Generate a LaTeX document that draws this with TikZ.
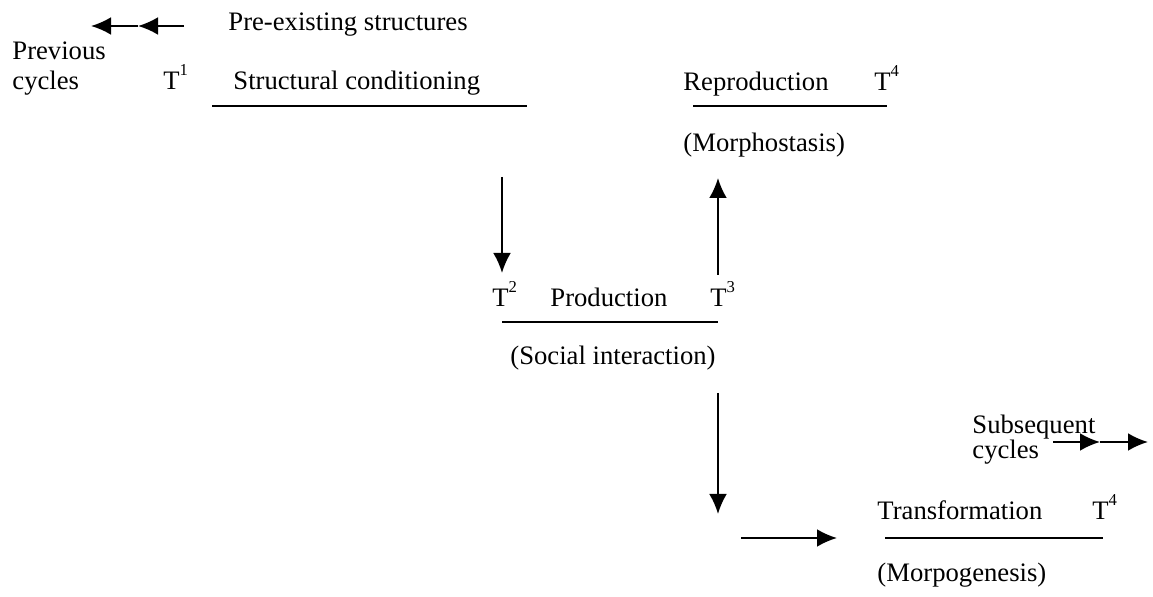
\documentclass[tikz,border=0pt]{standalone}
\usepackage{fontspec}
\setmainfont{Liberation Serif}
\usetikzlibrary{calc,arrows.meta}

\newcommand{\tsup}[1]{T\raisebox{1.15ex}{\fontsize{7.5}{8}\selectfont #1}}

\begin{document}
\begin{tikzpicture}[x=0.45pt,y=-0.45pt,font=\fontsize{12}{14}\selectfont,
                    txt/.style={anchor=base west,inner sep=0pt},
                    rule/.style={line width=0.8pt},
                    arr/.style={-{Latex[length=9pt,width=8pt]},line width=0.9pt}]
                      \useasboundingbox (0,0) rectangle (1153,597);
                      % first cycle: conditioning
                      \node[txt](pre)at(228,31){Pre-existing structures};
                      \node[txt](prev)at(12,60){Previous};
                      \node[txt](prevc)at(12,90){cycles};
                      \node[txt](t1)at(163,90){\tsup{1}};
                      \node[txt](cond)at(233,90){Structural conditioning};
                      \coordinate(pa)at(184,26);
                      \coordinate(pb)at(138,26);
                      \coordinate(pc)at(91,26);
                      \draw[arr](pa)--(pb);
                      \draw[arr](pb)--(pc);
                      \coordinate(ca)at(212,106);
                      \coordinate(cb)at(527,106);
                      \draw[rule](ca)--(cb);
                      % reproduction
                      \node[txt](repr)at(683,91){Reproduction};
                      \node[txt](t4a)at(874,91){\tsup{4}};
                      \node[txt](morphs)at(683,152){(Morphostasis)};
                      \coordinate(ra)at(693,106);
                      \coordinate(rb)at(887,106);
                      \draw[rule](ra)--(rb);
                      % interaction
                      \node[txt](t2)at(492,307){\tsup{2}};
                      \node[txt](prod)at(550,307){Production};
                      \node[txt](t3)at(710,307){\tsup{3}};
                      \node[txt](soc)at(510,365){(Social interaction)};
                      \coordinate(pra)at(502,322);
                      \coordinate(prb)at(718,322);
                      \draw[rule](pra)--(prb);
                      \coordinate(da)at(502,177);
                      \coordinate(db)at(502,273);
                      \draw[arr](da)--(db);
                      \coordinate(ua)at(718,275);
                      \coordinate(ub)at(718,178);
                      \draw[arr](ua)--(ub);
                      % transformation
                      \node[txt](trans)at(877,520){Transformation};
                      \node[txt](t4b)at(1092,520){\tsup{4}};
                      \node[txt](morpg)at(877,582){(Morpogenesis)};
                      \coordinate(ta)at(885,538);
                      \coordinate(tb)at(1103,538);
                      \draw[rule](ta)--(tb);
                      \coordinate(va)at(718,393);
                      \coordinate(vb)at(718,514);
                      \draw[arr](va)--(vb);
                      \coordinate(ha)at(741,538);
                      \coordinate(hb)at(837,538);
                      \draw[arr](ha)--(hb);
                      % next cycles
                      \node[txt](sub)at(972,434){Subsequent};
                      \node[txt](subc)at(972,459){cycles};
                      \coordinate(sa)at(1053,442);
                      \coordinate(sb)at(1100,442);
                      \coordinate(sc)at(1148,442);
                      \draw[arr](sa)--(sb);
                      \draw[arr](sb)--(sc);
                  \end{tikzpicture}
\end{document}
